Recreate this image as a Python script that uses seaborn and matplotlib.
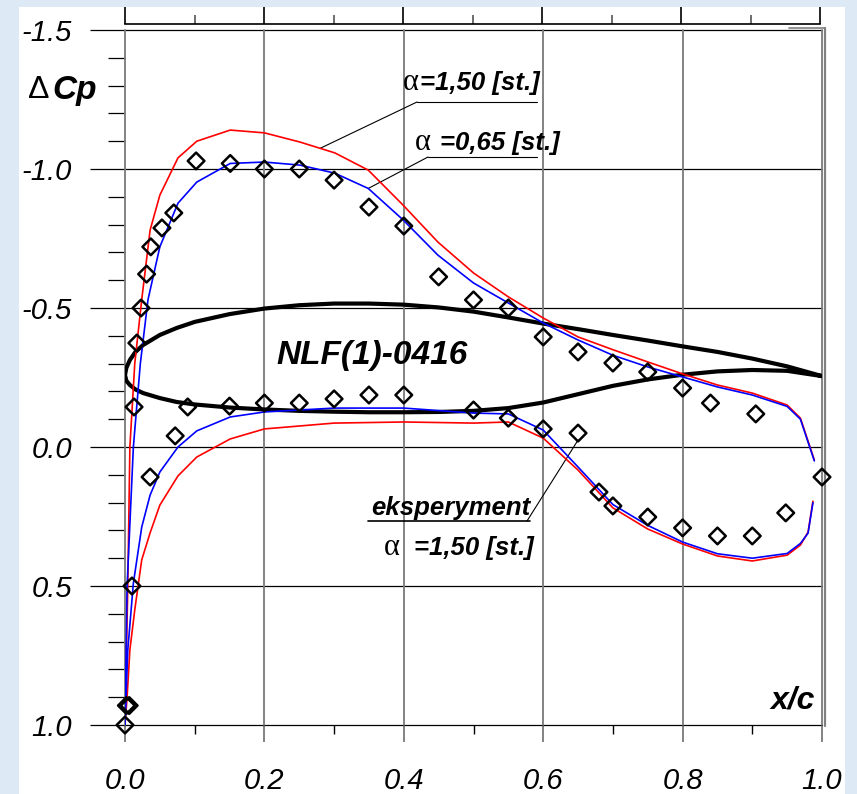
import numpy as np
import pandas as pd
import matplotlib
matplotlib.use("Agg")
import matplotlib.pyplot as plt
import seaborn as sns
from matplotlib.patches import Rectangle
from matplotlib.ticker import MultipleLocator

# --- data (x/c, delta Cp) ---
# theory, alpha = 1.50 deg (red)
x_up_150 = [0.989, 0.969, 0.95, 0.9, 0.85, 0.8, 0.75, 0.7, 0.65, 0.6, 0.55, 0.5, 0.449, 0.399,
            0.349, 0.301, 0.251, 0.2, 0.151, 0.103, 0.076, 0.05, 0.036, 0.024, 0.014, 0.007, 0.004, 0.0]
cp_up_150 = [0.047, -0.104, -0.151, -0.194, -0.223, -0.263, -0.306, -0.35, -0.396, -0.464, -0.54, -0.626,
             -0.737, -0.87, -0.996, -1.058, -1.097, -1.13, -1.14, -1.10, -1.04, -0.906, -0.78, -0.53,
             -0.30, 0.0, 0.5, 1.0]
x_lo_150 = [0.0, 0.003, 0.007, 0.014, 0.024, 0.036, 0.05, 0.076, 0.103, 0.151, 0.2, 0.3, 0.4, 0.5,
            0.55, 0.6, 0.65, 0.7, 0.75, 0.8, 0.85, 0.9, 0.95, 0.969, 0.98, 0.987]
cp_lo_150 = [1.0, 0.9, 0.73, 0.586, 0.406, 0.309, 0.209, 0.104, 0.036, -0.029, -0.065, -0.086, -0.09,
             -0.086, -0.09, -0.032, 0.083, 0.219, 0.295, 0.349, 0.392, 0.41, 0.389, 0.353, 0.306, 0.195]

# theory, alpha = 0.65 deg (blue)
x_up_065 = [0.989, 0.969, 0.95, 0.9, 0.85, 0.8, 0.75, 0.7, 0.65, 0.6, 0.55, 0.5, 0.449, 0.399,
            0.349, 0.301, 0.251, 0.2, 0.151, 0.103, 0.076, 0.05, 0.033, 0.022, 0.012, 0.003, 0.0]
cp_up_065 = [0.05, -0.10, -0.146, -0.187, -0.216, -0.252, -0.288, -0.33, -0.385, -0.446, -0.518, -0.59,
             -0.69, -0.817, -0.93, -0.985, -1.014, -1.025, -1.02, -0.953, -0.877, -0.72, -0.53,
             -0.30, 0.0, 0.5, 1.0]
x_lo_065 = [0.0, 0.004, 0.012, 0.024, 0.036, 0.05, 0.076, 0.103, 0.151, 0.2, 0.3, 0.4, 0.5, 0.55,
            0.6, 0.65, 0.7, 0.75, 0.8, 0.85, 0.9, 0.95, 0.969, 0.98, 0.987]
cp_lo_065 = [1.0, 0.73, 0.49, 0.288, 0.173, 0.09, 0.0, -0.058, -0.108, -0.126, -0.14, -0.14, -0.122,
             -0.119, -0.061, 0.072, 0.207, 0.282, 0.342, 0.384, 0.40, 0.383, 0.347, 0.31, 0.20]

# experiment, alpha = 1.50 deg (diamonds)
x_exp_up = [0.017, 0.023, 0.031, 0.037, 0.053, 0.07, 0.102, 0.151, 0.2, 0.25, 0.3, 0.35, 0.4, 0.45,
            0.5, 0.55, 0.6, 0.65, 0.7, 0.75, 0.8, 0.84, 0.905, 1.0]
cp_exp_up = [-0.374, -0.5, -0.622, -0.72, -0.788, -0.842, -1.029, -1.02, -1.0, -1.0, -0.96, -0.863,
             -0.795, -0.612, -0.529, -0.5, -0.396, -0.342, -0.302, -0.27, -0.212, -0.158, -0.119, 0.108]
x_exp_lo = [0.0, 0.002, 0.006, 0.01, 0.013, 0.036, 0.072, 0.09, 0.15, 0.2, 0.25, 0.3, 0.35, 0.4,
            0.5, 0.55, 0.6, 0.65, 0.68, 0.7, 0.75, 0.8, 0.85, 0.9, 0.948]
cp_exp_lo = [1.0, 0.93, 0.93, 0.5, -0.144, 0.108, -0.04, -0.144, -0.147, -0.158, -0.158, -0.173,
             -0.187, -0.187, -0.133, -0.104, -0.065, -0.05, 0.162, 0.212, 0.252, 0.291, 0.32, 0.32, 0.237]

# airfoil outline NLF(1)-0416 drawn in chart units
x_foil_up = [1.0, 0.95, 0.9, 0.85, 0.8, 0.75, 0.7, 0.65, 0.6, 0.55, 0.5, 0.45, 0.4, 0.35, 0.3, 0.25,
             0.2, 0.15, 0.1, 0.074, 0.05, 0.026, 0.015, 0.007, 0.002, 0.0]
y_foil_up = [-0.255, -0.29, -0.318, -0.342, -0.362, -0.383, -0.403, -0.424, -0.444, -0.466, -0.487,
             -0.502, -0.512, -0.516, -0.516, -0.51, -0.498, -0.478, -0.45, -0.428, -0.403, -0.367,
             -0.342, -0.313, -0.285, -0.259]
x_foil_lo = [0.0, 0.002, 0.007, 0.015, 0.026, 0.05, 0.074, 0.1, 0.15, 0.2, 0.25, 0.3, 0.35, 0.4,
             0.45, 0.5, 0.55, 0.6, 0.65, 0.7, 0.75, 0.8, 0.85, 0.9, 0.95, 1.0]
y_foil_lo = [-0.259, -0.238, -0.223, -0.207, -0.194, -0.176, -0.162, -0.153, -0.142, -0.135, -0.13,
             -0.127, -0.125, -0.125, -0.126, -0.13, -0.14, -0.16, -0.19, -0.22, -0.243, -0.26, -0.272,
             -0.277, -0.274, -0.255]

y_ticks = [-1.5, -1.0, -0.5, 0.0, 0.5, 1.0]
x_ticks = [0.0, 0.2, 0.4, 0.6, 0.8, 1.0]

W, H = 857, 794
X0, X1, Y0, Y1 = 125, 822, 30, 725   # pixel frame of the axes


def px(xp, yp):
    # pixel position in the picture -> chart coordinates
    return (xp - X0) / (X1 - X0), (yp - Y0) / (Y1 - Y0) * 2.5 - 1.5


sns.set_style("white")
plt.rcParams['font.family'] = ['Liberation Sans', 'DejaVu Sans']
plt.rcParams['text.color'] = 'black'
plt.rcParams['xtick.labelcolor'] = 'black'
plt.rcParams['ytick.labelcolor'] = 'black'

fig = plt.figure(figsize=(W / 100, H / 100), dpi=100, facecolor='#dde9f5')
fig.patches.append(Rectangle((19 / W, 0), (845 - 19) / W, 1 - 7 / H, transform=fig.transFigure,
                             facecolor='white', edgecolor='none', zorder=-10))
ax = fig.add_axes([X0 / W, 1 - Y1 / H, (X1 - X0) / W, (Y1 - Y0) / H])
ax.patch.set_alpha(0)

foil = pd.DataFrame({'x': x_foil_up + x_foil_lo, 'y': y_foil_up + y_foil_lo})
red = pd.DataFrame({'x': x_up_150 + x_lo_150, 'cp': cp_up_150 + cp_lo_150})
blue = pd.DataFrame({'x': x_up_065 + x_lo_065, 'cp': cp_up_065 + cp_lo_065})
exp = pd.DataFrame({'x': x_exp_up + x_exp_lo, 'cp': cp_exp_up + cp_exp_lo})

sns.lineplot(data=foil, x='x', y='y', sort=False, estimator=None, color='black', lw=3.0, ax=ax, zorder=3)
sns.lineplot(data=red, x='x', y='cp', sort=False, estimator=None, color='#ff0000', lw=1.2, ax=ax, zorder=4)
sns.lineplot(data=blue, x='x', y='cp', sort=False, estimator=None, color='#0000ff', lw=1.2, ax=ax, zorder=5)
sns.scatterplot(data=exp, x='x', y='cp', marker='D', s=72, facecolor='none', edgecolor='black',
                linewidth=1.8, ax=ax, zorder=6, clip_on=False)

ax.set_xlim(0, 1)
ax.set_ylim(1.0, -1.5)
ax.set_xlabel('')
ax.set_ylabel('')
for s in ax.spines.values():
    s.set_visible(False)

# grid lines drawn by hand so the ones on the frame are not clipped
for yv in y_ticks:
    ax.axhline(yv, color='black', lw=0.9, clip_on=False, zorder=1)
for xv in x_ticks:
    ax.axvline(xv, color='#7a7a7a', lw=1.3, clip_on=False, zorder=1)

ax.set_xticks(x_ticks)
ax.set_yticks(y_ticks)
ax.xaxis.set_minor_locator(MultipleLocator(0.1))
ax.yaxis.set_minor_locator(MultipleLocator(0.1))
ax.set_xticklabels([f'{v:.1f}' for v in x_ticks], fontsize=21, style='italic')
ax.set_yticklabels([f'{v:.1f}' for v in y_ticks], fontsize=21, style='italic')
ax.tick_params(bottom=True, left=True, top=False, right=False, which='both')
ax.tick_params(axis='x', which='major', direction='out', length=12.2, width=1.3, color='#7a7a7a', pad=18)
ax.tick_params(axis='x', which='minor', direction='out', length=6.5, width=1.0, color='black')
ax.tick_params(axis='y', which='major', direction='out', length=25.2, width=0.9, color='black', pad=13)
ax.tick_params(axis='y', which='minor', direction='out', length=12.2, width=0.9, color='black')
ax.grid(False)

# top scale frame
axt = fig.add_axes([X0 / W, 1 - 24 / H, (820 - X0) / W, 0.0001])
axt.patch.set_alpha(0)
axt.set_xlim(0, 1)
axt.set_yticks([])
for k in ['left', 'right', 'top']:
    axt.spines[k].set_visible(False)
axt.spines['bottom'].set_linewidth(1.2)
axt.spines['bottom'].set_color('black')
axt.set_xticks(x_ticks)
axt.xaxis.set_minor_locator(MultipleLocator(0.1))
axt.set_xticklabels([])
axt.tick_params(bottom=True, top=False, which='both')
axt.tick_params(axis='x', which='major', direction='in', length=12.2, width=1.2, color='black')
axt.tick_params(axis='x', which='minor', direction='in', length=6.5, width=1.2, color='#555555')

# right edge (double line)
ax.plot(*zip(px(824.5, 28), px(824.5, 726)), color='#808080', lw=1.6, clip_on=False, zorder=2)
ax.plot(*zip(px(789, 28), px(825, 28)), color='#808080', lw=1.2, clip_on=False, zorder=2)

# labels
bi = dict(fontweight='bold', style='italic')
fig.text(28 / W, 1 - 90 / H, '\u0394', fontsize=23, va='center', ha='left')
fig.text(52 / W, 1 - 90 / H, 'Cp', fontsize=24, va='center', ha='left', **bi)
ax.text(*px(815, 700), 'x/c', fontsize=23, ha='right', va='center', **bi)
ax.text(*px(372, 355), 'NLF(1)-0416', fontsize=24, ha='center', va='center', **bi)

serif = ['Liberation Serif', 'DejaVu Serif']

# alpha = 1.50 label (red)
ax.text(*px(403, 90), '\u03b1', fontsize=22, family=serif, ha='left', va='baseline')
ax.text(*px(420, 90), '=1,50 [st.]', fontsize=18.5, ha='left', va='baseline', **bi)
ax.plot(*zip(px(417, 102), px(537, 102)), color='black', lw=0.8, clip_on=False)
xr = 0.28
ax.plot([px(417, 102)[0], xr], [px(417, 102)[1], np.interp(xr, x_up_150[::-1], cp_up_150[::-1])],
        color='black', lw=0.8)

# alpha = 0.65 label (blue)
ax.text(*px(415, 150), '\u03b1', fontsize=22, family=serif, ha='left', va='baseline')
ax.text(*px(440, 150), '=0,65 [st.]', fontsize=18.5, ha='left', va='baseline', **bi)
ax.plot(*zip(px(428, 157), px(537, 157)), color='black', lw=0.8, clip_on=False)
xb = 0.349
ax.plot([px(428, 157)[0], xb], [px(428, 157)[1], np.interp(xb, x_up_065[::-1], cp_up_065[::-1])],
        color='black', lw=0.8)

# experiment label, leader goes to the lower-surface point at x/c = 0.65
ax.text(*px(530, 515), 'eksperyment', fontsize=18.5, ha='right', va='baseline', **bi)
ax.plot(*zip(px(368, 521), px(530, 521)), color='black', lw=1.2)
k65 = x_exp_lo.index(0.65)
ax.plot([px(527, 521)[0], x_exp_lo[k65]], [px(527, 521)[1], cp_exp_lo[k65] + 0.025], color='black', lw=0.8)
ax.text(*px(384, 555), '\u03b1', fontsize=22, family=serif, ha='left', va='baseline')
ax.text(*px(414, 555), '=1,50 [st.]', fontsize=18.5, ha='left', va='baseline', **bi)

fig.savefig('out.png', dpi=100, facecolor=fig.get_facecolor())
